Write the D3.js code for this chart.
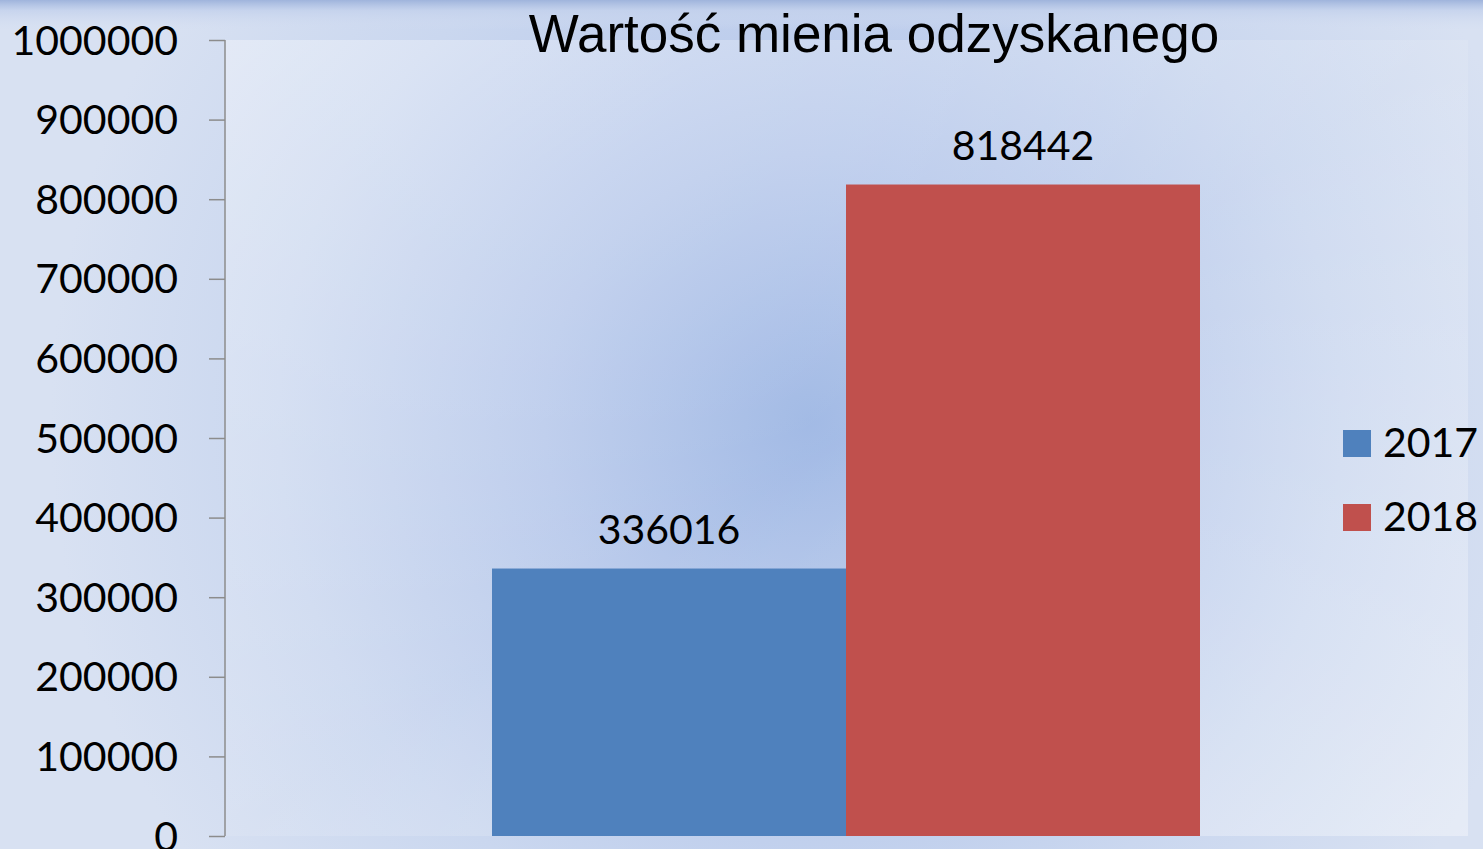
<!DOCTYPE html>
<html>
<head>
<meta charset="utf-8">
<script src="https://d3js.org/d3.v7.min.js"></script>
<style>
  body { margin: 0; background: #d6e0f2; overflow: hidden; }
  .axis text { font-family: Lato, "Liberation Sans", sans-serif; font-size: 41px; fill: #000; }
  .axis path, .axis line { stroke: #8c8c8c; stroke-width: 1.5px; }
</style>
</head>
<body>
<svg class="chart"></svg>
<script>
var width = 1483;
var height = 849;
var margin = {top: 40, right: 15, bottom: 13, left: 225};

var title = "Wartość mienia odzyskanego";
var series = ["2017", "2018"];
var values = [336016, 818442];
var colors = ["#4f81bd", "#c0504d"];
var yTicks = [0, 100000, 200000, 300000, 400000, 500000, 600000, 700000, 800000, 900000, 1000000];

var svg = d3.select(".chart")
    .attr("width", width)
    .attr("height", height);

var defs = svg.append("defs");

// radial glow behind the chart
var rad = defs.append("radialGradient")
    .attr("id", "bg")
    .attr("gradientUnits", "userSpaceOnUse")
    .attr("cx", 810).attr("cy", 420).attr("r", 760);
rad.append("stop").attr("offset", "0%").attr("stop-color", "#97b2e2");
rad.append("stop").attr("offset", "35%").attr("stop-color", "#b4c6ea");
rad.append("stop").attr("offset", "70%").attr("stop-color", "#cad7ef");
rad.append("stop").attr("offset", "100%").attr("stop-color", "#d8e1f2");

var topGrad = defs.append("linearGradient")
    .attr("id", "topband")
    .attr("x1", 0).attr("y1", 0).attr("x2", 0).attr("y2", 1);
topGrad.append("stop").attr("offset", "0%").attr("stop-color", "#9fb4dc").attr("stop-opacity", 1);
topGrad.append("stop").attr("offset", "35%").attr("stop-color", "#c3d1ec").attr("stop-opacity", 0.8);
topGrad.append("stop").attr("offset", "100%").attr("stop-color", "#d3ddf1").attr("stop-opacity", 0);

var plotGrad = defs.append("linearGradient")
    .attr("id", "plotbg")
    .attr("x1", 0).attr("y1", 0).attr("x2", 1).attr("y2", 1);
plotGrad.append("stop").attr("offset", "0%").attr("stop-color", "#fff").attr("stop-opacity", 0.35);
plotGrad.append("stop").attr("offset", "50%").attr("stop-color", "#fff").attr("stop-opacity", 0.1);
plotGrad.append("stop").attr("offset", "100%").attr("stop-color", "#fff").attr("stop-opacity", 0.35);

svg.append("rect")
    .attr("width", width)
    .attr("height", height)
    .attr("fill", "url(#bg)");

svg.append("rect")
    .attr("width", width)
    .attr("height", 30)
    .attr("fill", "url(#topband)");

var w = width - margin.left - margin.right;
var h = height - margin.top - margin.bottom;

var chart = svg.append("g")
    .attr("transform", "translate(" + margin.left + "," + margin.top + ")");

var x = d3.scaleBand()
    .domain(series)
    .range([267, 975]);

var y = d3.scaleLinear()
    .domain([0, 1000000])
    .range([796, 0]);

// plot area
chart.append("rect")
    .attr("x", 0)
    .attr("y", 0)
    .attr("width", w)
    .attr("height", y(0))
    .attr("fill", "url(#plotbg)");

chart.selectAll(".bar")
    .data(values)
    .enter().append("rect")
    .attr("class", "bar")
    .attr("x", function(d, i) { return x(series[i]); })
    .attr("y", function(d) { return y(d); })
    .attr("width", x.bandwidth())
    .attr("height", function(d) { return y(0) - y(d); })
    .attr("fill", function(d, i) { return colors[i]; });

chart.selectAll(".label")
    .data(values)
    .enter().append("text")
    .attr("class", "label")
    .attr("x", function(d, i) { return x(series[i]) + x.bandwidth() / 2; })
    .attr("y", function(d) { return y(d) - 25; })
    .attr("text-anchor", "middle")
    .style("font-family", "Lato, 'Liberation Sans', sans-serif")
    .style("font-size", "41px")
    .text(function(d) { return d; });

var yAxis = d3.axisLeft(y)
    .tickValues(yTicks)
    .tickSize(16)
    .tickPadding(31)
    .tickFormat(function(d) { return d; });

var ax = chart.append("g")
    .attr("class", "axis")
    .call(yAxis);
ax.select(".domain").attr("d", "M0,0V" + y(0));
ax.selectAll("text").attr("dy", "14px");

svg.append("text")
    .attr("x", 874)
    .attr("y", 52)
    .attr("text-anchor", "middle")
    .style("font-family", "'Liberation Sans', Arial, sans-serif")
    .style("font-size", "53px")
    .text(title);

// legend
var legend = svg.append("g")
    .attr("transform", "translate(1343,430)");

var item = legend.selectAll(".item")
    .data(series)
    .enter().append("g")
    .attr("class", "item")
    .attr("transform", function(d, i) { return "translate(0," + (i * 74) + ")"; });

item.append("rect")
    .attr("width", 28)
    .attr("height", 27)
    .attr("fill", function(d, i) { return colors[i]; });

item.append("text")
    .attr("x", 40)
    .attr("y", 27)
    .style("font-family", "Lato, 'Liberation Sans', sans-serif")
    .style("font-size", "41px")
    .text(function(d) { return d; });
</script>
</body>
</html>
